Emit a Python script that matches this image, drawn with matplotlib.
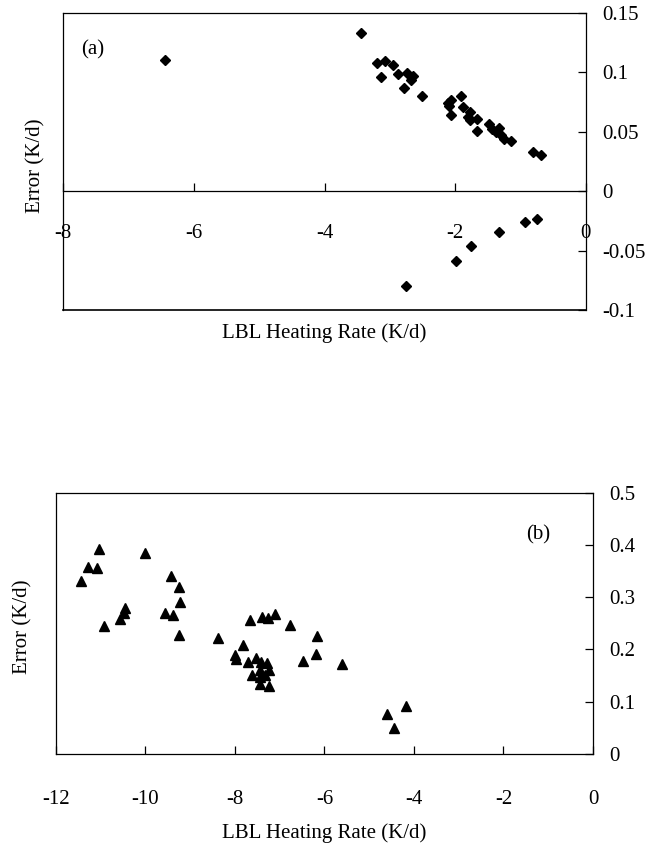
import matplotlib
matplotlib.use("Agg")
import matplotlib.pyplot as plt

plt.rcParams['font.family'] = ['Liberation Serif', 'DejaVu Serif']
plt.rcParams['axes.unicode_minus'] = False

# panel (a) - diamonds
lbl_a = [-6.44, -3.44, -3.19, -3.07, -2.95, -3.13, -2.88, -2.74, -2.64, -2.68,
         -2.78, -2.50, -2.11, -2.07, -2.09, -1.91, -2.06, -1.88, -1.77, -1.80,
         -1.77, -1.66, -1.66, -1.48, -1.44, -1.33, -1.37, -1.29, -1.25, -1.15,
         -0.81, -0.69,
         -2.75, -1.98, -1.75, -1.33, -0.93, -0.75]
err_a = [0.1106, 0.133, 0.108, 0.109, 0.106, 0.0957, 0.0985, 0.099, 0.097, 0.0935,
         0.0868, 0.0798, 0.0743, 0.0762, 0.0712, 0.080, 0.0642, 0.0706, 0.0664, 0.0622,
         0.0595, 0.0609, 0.0503, 0.0561, 0.0525, 0.053, 0.0497, 0.0469, 0.0441, 0.0421,
         0.0329, 0.0302,
         -0.0798, -0.0586, -0.0461, -0.0341, -0.0263, -0.0232]

# panel (b) - triangles
lbl_b = [-11.04, -11.29, -11.09, -11.44, -10.02, -9.42, -9.24, -9.22, -9.57, -9.39,
         -9.24, -10.45, -10.48, -10.56, -10.92, -8.37, -7.81, -8.00, -7.97, -7.72,
         -7.53, -7.42, -7.29, -7.25, -7.45, -7.62, -7.45, -7.34, -7.43, -7.23,
         -7.67, -7.39, -7.27, -7.11, -6.77, -6.17, -6.20, -6.49, -5.60,
         -4.60, -4.45, -4.17]
err_b = [0.392, 0.358, 0.356, 0.331, 0.384, 0.340, 0.319, 0.290, 0.270, 0.265,
         0.228, 0.280, 0.269, 0.258, 0.244, 0.222, 0.208, 0.189, 0.182, 0.176,
         0.183, 0.176, 0.174, 0.161, 0.160, 0.152, 0.147, 0.152, 0.133, 0.131,
         0.256, 0.263, 0.261, 0.267, 0.247, 0.225, 0.192, 0.178, 0.172,
         0.0756, 0.050, 0.0917]

xt_a = [-8, -6, -4, -2, 0]
yt_a = [-0.1, -0.05, 0, 0.05, 0.1, 0.15]
xt_b = [-12, -10, -8, -6, -4, -2, 0]
yt_b = [0, 0.1, 0.2, 0.3, 0.4, 0.5]

FS = 15
LBL = "LBL Heating Rate (K/d)"
YLBL = "Error (K/d)"

fig = plt.figure(figsize=(6.61, 8.49), dpi=100)

# ---------------- panel (a) ----------------
ax1 = fig.add_axes([0.0958, 0.6349, 0.7903, 0.3502])
ax1.plot(lbl_a, err_a, 'kD', ms=4.6, ls='none')
ax1.set_xlim(-8, 0)
ax1.set_ylim(-0.1, 0.15)
ax1.spines['bottom'].set_position(('data', 0))
ax1.axhline(-0.1, color='k', lw=1.2, clip_on=False)
for s in ax1.spines.values():
    s.set_linewidth(0.9)
ax1.yaxis.tick_right()
ax1.set_xticks(xt_a)
ax1.set_xticklabels(['%g' % v for v in xt_a])
ax1.set_yticks(yt_a)
ax1.set_yticklabels(['%g' % v for v in yt_a])
ax1.tick_params(axis='x', direction='in', length=6, width=0.9, pad=24,
                labelsize=FS, top=False)
ax1.tick_params(axis='y', direction='in', length=6, width=0.9, pad=12,
                labelsize=FS, left=False, right=True)
ax1.set_xlabel(LBL, fontsize=FS)
ax1.xaxis.set_label_coords(0.5, -0.0774)
ax1.xaxis.label.set_va('center')
ax1.text(-0.052, 0.484, YLBL, transform=ax1.transAxes, fontsize=FS,
         rotation=90, ha='center', va='center')
ax1.text(0.057, 0.875, "(a)", transform=ax1.transAxes, fontsize=FS,
         ha='center', va='center')

# ---------------- panel (b) ----------------
ax2 = fig.add_axes([0.0847, 0.1119, 0.8124, 0.3078])
ax2.plot(lbl_b, err_b, 'k^', ms=7, ls='none')
ax2.set_xlim(-12, 0)
ax2.set_ylim(0, 0.5)
for s in ax2.spines.values():
    s.set_linewidth(0.9)
ax2.yaxis.tick_right()
ax2.set_xticks(xt_b)
ax2.set_xticklabels(['%g' % v for v in xt_b])
ax2.set_yticks(yt_b)
ax2.set_yticklabels(['%g' % v for v in yt_b])
ax2.tick_params(axis='x', direction='in', length=6, width=0.9, pad=26,
                labelsize=FS, top=False)
ax2.tick_params(axis='y', direction='in', length=6, width=0.9, pad=12,
                labelsize=FS, left=False, right=True)
ax2.set_xlabel(LBL, fontsize=FS)
ax2.xaxis.set_label_coords(0.5, -0.302)
ax2.xaxis.label.set_va('center')
ax2.text(-0.061, 0.486, YLBL, transform=ax2.transAxes, fontsize=FS,
         rotation=90, ha='center', va='center')
ax2.text(0.898, 0.838, "(b)", transform=ax2.transAxes, fontsize=FS,
         ha='center', va='center')

fig.savefig("out.png", dpi=100)
